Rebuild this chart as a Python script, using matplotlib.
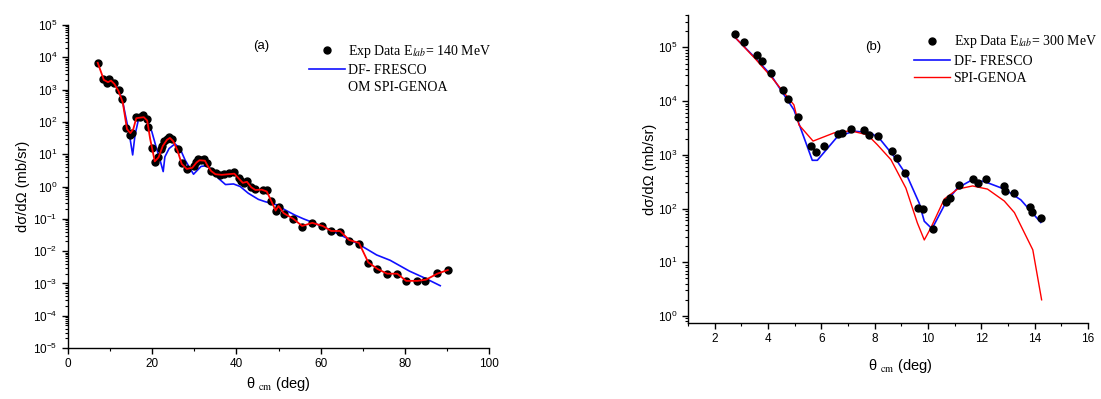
#!/usr/bin/env python3
"""Elastic angular distributions at 140 and 300 MeV, two panels."""

import matplotlib

matplotlib.use("Agg")
import matplotlib.pyplot as plt
from matplotlib.lines import Line2D
from matplotlib.ticker import LogLocator, MultipleLocator, NullFormatter

# ---- panel (a): E_lab = 140 MeV ----
a_exp_theta = [7.05, 8.2, 9.2, 9.7, 11.0, 12.0, 12.75, 13.8, 14.6, 15.2, 16.1, 17.1, 17.7,
               18.7, 18.9, 19.95, 20.7, 21.45, 22.1, 22.3, 22.9, 23.4, 24.0, 24.6, 26.0, 27.0,
               28.2, 29.8, 30.4, 30.8, 31.6, 32.3, 32.9, 34.0, 35.1, 36.2, 37.1, 38.3, 39.4,
               40.6, 41.1, 41.9, 42.5, 43.5, 44.3, 46.2, 47.2, 48.2, 49.3, 50.1, 51.3, 53.5,
               55.6, 58.0, 60.4, 62.4, 64.6, 66.8, 69.1, 71.3, 73.5, 75.8, 78.2, 80.2, 82.8,
               84.8, 87.7, 90.2]
a_exp_xs = [6800, 2100, 1600, 2100, 1600, 980, 510, 67, 40, 47, 145, 145, 160,
            125, 70, 16, 5.7, 8.3, 14, 18, 26, 29, 34, 30, 14.5, 5.4,
            3.5, 4.4, 5.6, 7.2, 6.8, 6.9, 5.3, 2.95, 2.6, 2.35, 2.45, 2.55, 2.75,
            1.9, 1.48, 1.26, 1.48, 0.95, 0.81, 0.8, 0.78, 0.35, 0.17, 0.23, 0.14, 0.098,
            0.054, 0.072, 0.060, 0.042, 0.040, 0.021, 0.017, 0.0044, 0.0028, 0.0020, 0.0020,
            0.00122, 0.0012, 0.0012, 0.0021, 0.0026]

a_fresco_theta = [9.0, 10.0, 11.2, 12.0, 12.9, 13.7, 14.6, 15.35, 15.9, 16.7, 17.65, 18.7,
                  19.9, 20.9, 21.85, 22.6, 23.0, 24.0, 25.4, 26.6, 27.8, 29.8, 31.6, 32.9,
                  34.2, 35.7, 37.4, 39.3, 40.9, 42.8, 45.2, 46.8, 49.6, 51.5, 53.9, 55.9,
                  57.5, 61.4, 64.0, 68.8, 73.3, 76.5, 81.1, 84.8, 88.4]
a_fresco_xs = [1450, 1450, 1500, 970, 480, 145, 39, 9.5, 39, 115, 135, 115,
               50, 17, 6.6, 2.9, 8.3, 15, 21, 15, 6.6, 2.4, 4.2, 4.4,
               3.3, 1.8, 1.15, 1.2, 1.0, 0.62, 0.40, 0.34, 0.27, 0.19, 0.13, 0.10,
               0.083, 0.051, 0.035, 0.017, 0.0076, 0.0052, 0.0024, 0.00145, 0.00085]

a_genoa_theta = [7.05, 8.5, 9.5, 10.2, 11.0, 12.0, 13.0, 14.0, 14.8, 15.5, 16.2, 17.0, 18.0,
                 18.8, 19.5, 20.6, 21.5, 22.5, 23.5, 24.2, 25.0, 26.0, 27.0, 28.2, 29.5, 30.5,
                 31.2, 32.5, 33.1, 34.0, 35.0, 36.5, 38.0, 39.5, 40.5, 41.5, 42.5, 43.5, 44.5,
                 46.0, 47.2, 48.3, 49.3, 50.0, 51.2, 53.5, 55.6, 58.0, 60.5, 62.5, 64.6, 66.8,
                 69.1, 71.3, 73.5, 75.8, 78.2, 80.3, 83.0, 85.0, 87.7, 90.2]
a_genoa_xs = [6800, 2000, 1700, 1900, 1500, 900, 400, 60, 45, 60, 130, 135, 140,
              110, 30, 6.0, 8.0, 18, 28, 32, 25, 13, 5.0, 3.5, 3.8, 5.5,
              6.5, 6.3, 4.5, 3.0, 2.4, 2.3, 2.4, 2.5, 1.8, 1.3, 1.4, 0.95, 0.78,
              0.8, 0.7, 0.35, 0.18, 0.25, 0.15, 0.10, 0.06, 0.075, 0.06, 0.042, 0.042, 0.022,
              0.018, 0.0045, 0.0028, 0.0020, 0.0020, 0.0012, 0.0012, 0.0013, 0.0020, 0.0026]

# ---- panel (b): E_lab = 300 MeV ----
b_exp_theta = [2.75, 3.10, 3.59, 3.79, 4.10, 4.58, 4.75, 5.13, 5.62, 5.81, 6.11, 6.61, 6.77,
               7.12, 7.61, 7.80, 8.13, 8.65, 8.82, 9.15, 9.63, 9.83, 10.17, 10.67, 10.83,
               11.17, 11.69, 11.86, 12.19, 12.84, 12.89, 13.21, 13.83, 13.89, 14.23]
b_exp_xs = [1.77e5, 1.28e5, 7.3e4, 5.5e4, 3.4e4, 1.6e4, 1.1e4, 5100, 1480, 1150, 1480, 2400,
            2560, 3000, 2930, 2300, 2200, 1200, 870, 460, 102, 100, 41, 132, 158,
            275, 355, 300, 355, 260, 215, 195, 105, 87, 66]

b_fresco_theta = [2.75, 3.5, 4.10, 4.97, 5.66, 5.85, 6.61, 7.23, 7.86, 8.22, 8.72, 9.22,
                  9.67, 9.86, 10.15, 10.67, 11.10, 11.60, 12.10, 12.86, 13.48, 14.23]
b_fresco_xs = [1.56e5, 6.5e4, 3.1e4, 6900, 790, 790, 2200, 2750, 2570, 1900, 940, 400,
               126, 58, 42, 130, 240, 330, 320, 230, 145, 55]

b_genoa_theta = [2.75, 3.5, 4.10, 4.97, 5.16, 5.69, 6.48, 7.10, 7.73, 8.10, 8.61, 9.17,
                 9.60, 9.86, 10.11, 10.61, 11.11, 11.67, 12.23, 12.86, 13.24, 13.93, 14.26]
b_genoa_xs = [1.56e5, 6.3e4, 2.9e4, 8500, 3600, 1800, 2560, 2800, 2350, 1540, 810, 240,
              54, 26, 44, 150, 230, 263, 230, 138, 84, 17, 2.0]

SANS = "Liberation Sans"
SERIF = "Liberation Serif"
YLABEL = "dσ/dΩ (mb/sr)"
XLABEL = r"θ $_{\rm cm}$ (deg)"


def style_axis(ax):
    for side in ("top", "right"):
        ax.spines[side].set_visible(False)
    for side in ("left", "bottom"):
        ax.spines[side].set_linewidth(1.0)
    ax.set_yscale("log")
    ax.yaxis.set_major_locator(LogLocator(base=10, numticks=20))
    ax.yaxis.set_minor_locator(LogLocator(base=10, subs=range(2, 10), numticks=20))
    ax.yaxis.set_minor_formatter(NullFormatter())
    ax.tick_params(which="major", direction="out", length=4, width=1.0, labelsize=8.5)
    ax.tick_params(which="minor", direction="out", length=2.5, width=0.8)
    for lab in ax.get_xticklabels() + ax.get_yticklabels():
        lab.set_fontfamily(SANS)


def legend_for(ax, handles, labels, anchor):
    return ax.legend(
        handles, labels, loc="upper left", bbox_to_anchor=anchor, frameon=False,
        borderpad=0, borderaxespad=0, handlelength=2.6, handletextpad=0.25,
        labelspacing=0.3, prop={"family": SERIF, "size": 10},
    )


def main():
    plt.rcParams["mathtext.fontset"] = "stix"
    plt.rcParams["font.family"] = SANS
    fig = plt.figure(figsize=(11.01, 3.99), dpi=100)

    # panel (a)
    ax = fig.add_axes([0.0618, 0.1278, 0.3824, 0.8095])
    pts = ax.plot(a_exp_theta, a_exp_xs, "o", color="black", ms=5, zorder=3)[0]
    blue = ax.plot(a_fresco_theta, a_fresco_xs, color="#1010ff", lw=1.2, zorder=2)[0]
    ax.plot(a_genoa_theta, a_genoa_xs, color="#ff0000", lw=1.3, zorder=4)
    ax.set_xlim(0, 100)
    ax.set_ylim(1e-5, 1e5)
    ax.xaxis.set_major_locator(MultipleLocator(20))
    ax.xaxis.set_minor_locator(MultipleLocator(10))
    style_axis(ax)
    ax.set_ylabel(YLABEL, fontsize=10.5, family=SANS)
    ax.yaxis.set_label_coords(-0.091, 0.5)
    ax.set_xlabel(XLABEL, fontsize=10.5, family=SANS)
    ax.xaxis.set_label_coords(0.5, -0.085)
    ax.text(0.458, 0.935, "(a)", transform=ax.transAxes, fontsize=9.5,
            ha="center", va="center")
    empty = Line2D([], [], linestyle="none")
    legend_for(ax, [pts, blue, empty],
               [r"Exp Data E$_{lab}$= 140 MeV", "DF- FRESCO", "OM SPI-GENOA"],
               (0.572, 0.945))

    # panel (b)
    bx = fig.add_axes([0.6249, 0.1905, 0.3633, 0.7719])
    bb = bx.plot(b_fresco_theta, b_fresco_xs, color="#1010ff", lw=1.2, zorder=2)[0]
    br = bx.plot(b_genoa_theta, b_genoa_xs, color="#ff0000", lw=1.0, zorder=2)[0]
    bp = bx.plot(b_exp_theta, b_exp_xs, "o", color="black", ms=5, zorder=3)[0]
    bx.set_xlim(1, 16)
    bx.set_ylim(0.74, 4e5)
    bx.xaxis.set_major_locator(MultipleLocator(2))
    bx.xaxis.set_minor_locator(MultipleLocator(1))
    style_axis(bx)
    bx.set_ylabel(YLABEL, fontsize=10.5, family=SANS)
    bx.yaxis.set_label_coords(-0.077, 0.5)
    bx.set_xlabel(XLABEL, fontsize=10.5, family=SANS)
    bx.xaxis.set_label_coords(0.53, -0.11)
    bx.text(0.4625, 0.896, "(b)", transform=bx.transAxes, fontsize=9.5,
            ha="center", va="center")
    legend_for(bx, [bp, bb, br],
               [r"Exp Data E$_{lab}$= 300 MeV", "DF- FRESCO", "SPI-GENOA"],
               (0.565, 0.94))

    fig.savefig("out.png", dpi=100)
    plt.close(fig)


if __name__ == "__main__":
    main()
